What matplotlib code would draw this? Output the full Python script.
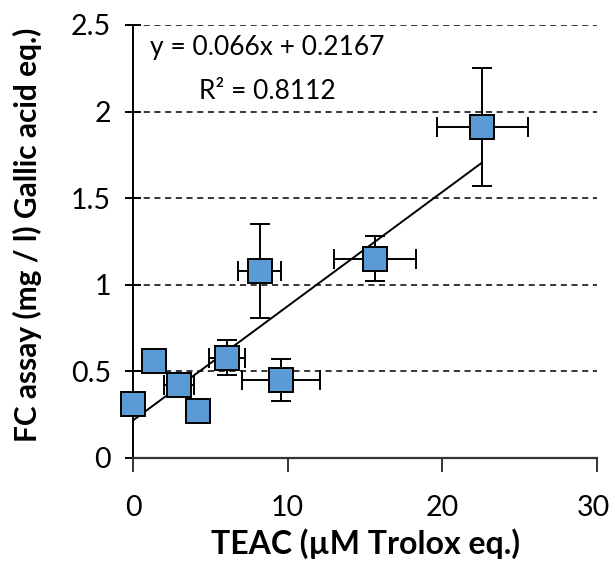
import matplotlib
matplotlib.use("Agg")
import matplotlib.pyplot as plt
import matplotlib.transforms as mtransforms
import numpy as np

plt.rcParams['font.family'] = ['Lato', 'DejaVu Sans']

# data
teac = [0.0, 1.36, 2.97, 4.2, 6.08, 9.57, 8.2, 15.64, 22.56]
fc = [0.31, 0.56, 0.42, 0.27, 0.58, 0.45, 1.08, 1.15, 1.91]
teac_err = [0, 0, 0.97, 0, 1.16, 2.5, 1.39, 2.65, 2.94]
fc_err = [0, 0, 0.02, 0, 0.1, 0.12, 0.27, 0.13, 0.34]

slope, intercept = 0.066, 0.2167

fig = plt.figure(figsize=(6.1, 5.68), dpi=100)
ax = fig.add_axes([0.218, 0.1937, 0.761, 0.7623])

# dashed gridlines
for yv in [0.5, 1, 1.5, 2, 2.5]:
    ax.axhline(yv, color='black', ls=(0, (4, 3)), lw=1.1, zorder=0)

ax.errorbar(teac, fc, xerr=teac_err, yerr=fc_err, fmt='none', ecolor='black',
            elinewidth=1.4, capsize=7, capthick=1.4, zorder=2)

xs = np.array([min(teac), max(teac)])
ax.plot(xs, slope * xs + intercept, color='black', lw=1.4, zorder=3, clip_on=False)

ax.plot(teac, fc, ls='none', marker='s', markersize=17, markerfacecolor='#5B9BD5',
        markeredgecolor='black', markeredgewidth=1.4, zorder=4, clip_on=False)

ax.text(0.29, 0.947, 'y = 0.066x + 0.2167', transform=ax.transAxes, ha='center', va='center', fontsize=19)
ax.text(0.29, 0.847, 'R² = 0.8112', transform=ax.transAxes, ha='center', va='center', fontsize=19)

ax.set_xlim(0, 30)
ax.set_ylim(0, 2.5)
ax.set_xticks([0, 10, 20, 30])
ax.set_yticks([0, 0.5, 1, 1.5, 2, 2.5])
ax.set_yticklabels(['0', '0.5', '1', '1.5', '2', '2.5'])
ax.tick_params(axis='both', labelsize=20.5, width=1.4)
ax.tick_params(axis='x', direction='out', length=10, pad=17, colors='#333333', labelcolor='black')
ax.tick_params(axis='y', direction='inout', length=12, pad=10)
ax.spines['top'].set_visible(False)
ax.spines['right'].set_visible(False)
ax.spines['left'].set_linewidth(1.4)
ax.spines['bottom'].set_linewidth(1.6)
ax.spines['bottom'].set_color('#333333')
ax.set_xlabel('TEAC (µM Trolox eq.)', fontsize=23, fontweight='bold')
ax.set_ylabel('FC assay (mg / l) Gallic acid eq.)', fontsize=21.5, fontweight='bold')
ax.xaxis.set_label_coords(0.5, -0.162)
ax.yaxis.set_label_coords(-0.196, 0.515)

# keep the last x tick label inside the canvas
last = ax.get_xticklabels()[-1]
last.set_transform(last.get_transform() + mtransforms.ScaledTranslation(-4 / 100, 0, fig.dpi_scale_trans))

fig.savefig('out.png', dpi=100)
